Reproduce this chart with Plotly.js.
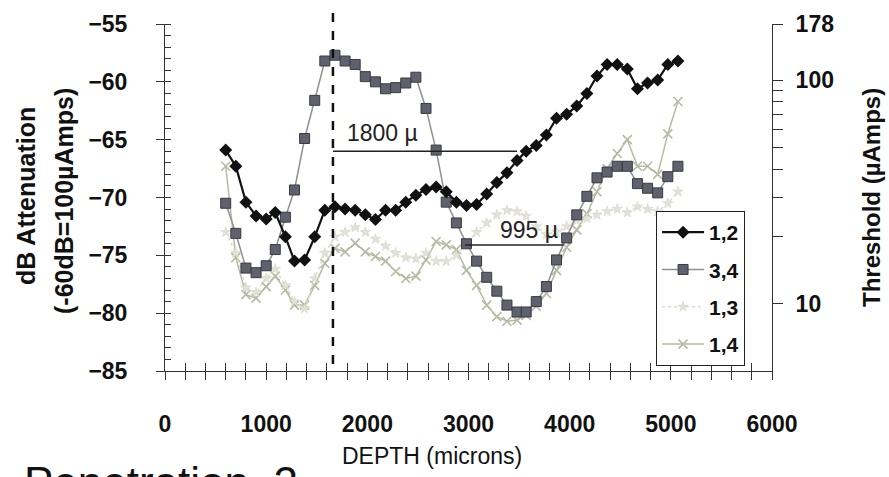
<!DOCTYPE html>
<html>
<head>
<meta charset="utf-8">
<script src="https://cdn.plot.ly/plotly-3.0.1.min.js"></script>
<style>html,body{margin:0;padding:0;background:#fff;}#chart{width:889px;height:477px;}</style>
</head>
<body>
<div id="chart"></div>
<script>
// Depth (microns) of each recording point
const depth = [600, 700, 800, 900, 1000, 1090, 1190, 1280, 1380, 1480,
  1580, 1680, 1780, 1880, 1980, 2080, 2180, 2280, 2380, 2480,
  2580, 2680, 2780, 2880, 2980, 3080, 3180, 3280, 3380, 3480,
  3570, 3670, 3770, 3870, 3970, 4070, 4170, 4270, 4370, 4470,
  4570, 4670, 4770, 4870, 4970, 5070];

// dB attenuation for each electrode pair
const pair12 = [-65.9, -67.3, -70.4, -71.6, -71.85, -71.3, -73.4, -75.5, -75.4, -73.4,
  -71.1, -70.8, -71.0, -71.1, -71.5, -71.9, -71.1, -71.1, -70.4, -69.8,
  -69.3, -69.1, -69.5, -70.4, -70.7, -70.6, -69.7, -68.7, -67.85, -66.8,
  -66.0, -65.5, -64.6, -63.15, -62.8, -62.1, -61.0, -59.5, -58.5, -58.5,
  -58.9, -60.6, -60.1, -59.85, -58.5, -58.2];
const pair34 = [-70.5, -73.1, -76.1, -76.5, -75.9, -74.5, -71.7, -69.35, -64.9, -61.6,
  -58.2, -57.7, -58.2, -58.5, -59.55, -60.0, -60.6, -60.5, -60.1, -59.6,
  -62.3, -65.9, -70.4, -72.2, -74.0, -75.5, -76.9, -78.1, -79.3, -79.9,
  -79.9, -79.0, -77.7, -75.4, -73.5, -71.5, -69.9, -68.3, -67.8, -67.3,
  -67.3, -68.8, -69.2, -69.6, -68.2, -67.3];
const pair13 = [-73.0, -74.8, -77.8, -78.2, -77.0, -76.2, -77.6, -79.0, -79.6, -77.0,
  -74.8, -73.4, -73.0, -72.6, -73.0, -73.6, -74.2, -74.8, -75.2, -75.3,
  -74.8, -75.5, -75.5, -75.0, -74.0, -73.0, -72.2, -71.5, -71.1, -71.2,
  -71.6, -72.5, -73.2, -73.0, -72.5, -72.0, -71.8, -71.5, -71.2, -71.0,
  -71.3, -70.8, -71.0, -71.2, -70.5, -69.5];
const pair14 = [-67.3, -75.2, -78.4, -78.7, -77.7, -76.8, -78.0, -79.3, -79.3, -77.6,
  -75.7, -74.4, -74.7, -73.95, -74.7, -75.1, -75.5, -76.4, -77.0, -76.8,
  -75.4, -73.8, -74.1, -74.5, -76.3, -77.6, -79.3, -80.3, -80.7, -80.6,
  -80.2, -79.4, -78.3, -76.3, -74.3, -72.8, -71.4, -69.5, -67.5, -66.2,
  -65.0, -67.3, -67.3, -68.0, -64.5, -61.7];

const seriesNames = ['1,2', '3,4', '1,3', '1,4'];

// Right axis (threshold, µAmps) ticks
const thresholdTicks = [10, 20, 30, 40, 50, 60, 70, 80, 90, 100, 178];
const thresholdLabels = ['10', '', '', '', '', '', '', '', '', '100', '178'];

// Marked spans
const peakDepth = 1660;
const span1800 = {x0: 1660, x1: 3480, y: -66.0, label: '1800 µ', lx: 2145, ly: -64.4};
const span995 = {x0: 2965, x1: 3940, y: -74.1, label: '995 µ', lx: 3600, ly: -72.85};

const FONT = 'Liberation Sans, Arial, sans-serif';

const traces = [
  {name: seriesNames[3], x: depth, y: pair14, mode: 'lines+markers', legendgroup: 'g4', legendrank: 4,
   line: {color: '#b5bba2', width: 1.5},
   marker: {symbol: 'x-thin-open', size: 9, line: {color: '#9a90cc', width: 1.6}}},
  {name: seriesNames[2], x: depth, y: pair13, mode: 'lines+markers', legendgroup: 'g3', legendrank: 3,
   line: {color: '#dcdccc', width: 1.5, dash: 'dot'},
   marker: {symbol: 'star', size: 8, color: '#e2e2d6', line: {color: '#d0d0c4', width: 0.5}}},
  {name: seriesNames[1], x: depth, y: pair34, mode: 'lines+markers', legendgroup: 'g2', legendrank: 2,
   line: {color: '#909090', width: 1.5},
   marker: {symbol: 'square', size: 10, color: '#5f616d', line: {color: '#3a3b42', width: 1}}},
  {name: seriesNames[0], x: depth, y: pair12, mode: 'lines+markers', legendgroup: 'g1', legendrank: 1,
   line: {color: '#111', width: 2.2},
   marker: {symbol: 'diamond', size: 10, color: '#111', line: {color: '#111', width: 0}}},
  // axis carriers (no visible marks)
  {x: [null], y: [null], xaxis: 'x2', yaxis: 'y', mode: 'none', showlegend: false, hoverinfo: 'skip'},
  {x: [null], y: [null], xaxis: 'x', yaxis: 'y2', mode: 'none', showlegend: false, hoverinfo: 'skip'}
];

const layout = {
  width: 889, height: 477,
  margin: {l: 165, r: 117, t: 24, b: 106},
  paper_bgcolor: '#fff', plot_bgcolor: 'rgba(0,0,0,0)',
  font: {family: FONT, color: '#111'},
  showlegend: true,
  legend: {
    x: 0.809, y: 0.461, xanchor: 'left', yanchor: 'top',
    bgcolor: '#fff', bordercolor: '#222', borderwidth: 1,
    font: {family: FONT, size: 21, color: '#111', weight: 'bold'},
    traceorder: 'grouped', tracegroupgap: 7, itemwidth: 42
  },
  xaxis: {
    range: [0, 6000], dtick: 1000, tick0: 0,
    showgrid: false, zeroline: false, showline: true, linecolor: '#333', linewidth: 1,
    ticks: 'outside', ticklen: 8, tickcolor: '#333', ticklabelstandoff: 24,
    minor: {dtick: 200, ticks: 'outside', ticklen: 8, tickcolor: '#333', showgrid: false},
    tickfont: {family: FONT, size: 23, weight: 'bold', color: '#111'}
  },
  xaxis2: {
    overlaying: 'x', anchor: 'y', range: [0, 6000], dtick: 200,
    showgrid: false, zeroline: false, showline: false, showticklabels: false,
    ticks: 'inside', ticklen: 8, tickcolor: '#333'
  },
  yaxis: {
    range: [-85, -55], dtick: 5, tick0: -85,
    showgrid: false, zeroline: false, showline: true, linecolor: '#333', linewidth: 1,
    ticks: 'outside', ticklen: 8, tickcolor: '#333', ticklabelstandoff: 24,
    minor: {dtick: 1, ticks: 'inside', ticklen: 6, tickcolor: '#333', showgrid: false},
    tickfont: {family: FONT, size: 23, weight: 'bold', color: '#111'}
  },
  yaxis2: {
    overlaying: 'y', side: 'right', anchor: 'x', type: 'log',
    range: [Math.log10(5.02), Math.log10(178)],
    tickmode: 'array', tickvals: thresholdTicks, ticktext: thresholdLabels,
    showgrid: false, zeroline: false, showline: true, linecolor: '#333', linewidth: 1,
    ticks: 'outside', ticklen: 10, tickcolor: '#333', ticklabelstandoff: 8,
    tickfont: {family: FONT, size: 23, weight: 'bold', color: '#111'}
  },
  shapes: [
    {type: 'line', xref: 'x', yref: 'paper', x0: peakDepth, x1: peakDepth, y0: 0.02, y1: 1.046,
     line: {color: '#111', width: 2.5, dash: 'dash'}},
    {type: 'line', xref: 'x', yref: 'y', x0: span1800.x0, x1: span1800.x1, y0: span1800.y, y1: span1800.y,
     line: {color: '#222', width: 1.5}},
    {type: 'line', xref: 'x', yref: 'y', x0: span995.x0, x1: span995.x1, y0: span995.y, y1: span995.y,
     line: {color: '#222', width: 1.5}}
  ],
  annotations: [
    {text: span1800.label, x: span1800.lx, y: span1800.ly, xref: 'x', yref: 'y', showarrow: false,
     font: {family: FONT, size: 23, color: '#222'}},
    {text: span995.label, x: span995.lx, y: span995.ly, xref: 'x', yref: 'y', showarrow: false,
     font: {family: FONT, size: 23, color: '#222'}},
    {text: 'dB Attenuation', xref: 'paper', yref: 'paper', x: (26 - 165) / 607, y: (371 - 196) / 347,
     textangle: -90, showarrow: false, xanchor: 'center', yanchor: 'middle',
     font: {family: FONT, size: 25, weight: 'bold', color: '#111'}},
    {text: '(-60dB=100µAmps)', xref: 'paper', yref: 'paper', x: (64 - 165) / 607, y: (371 - 201) / 347,
     textangle: -90, showarrow: false, xanchor: 'center', yanchor: 'middle',
     font: {family: FONT, size: 25, weight: 'bold', color: '#111'}},
    {text: 'Threshold (µAmps)', xref: 'paper', yref: 'paper', x: (871 - 165) / 607, y: (371 - 198) / 347,
     textangle: -90, showarrow: false, xanchor: 'center', yanchor: 'middle',
     font: {family: FONT, size: 24, weight: 'bold', color: '#111'}},
    {text: 'DEPTH (microns)', xref: 'paper', yref: 'paper', x: (432 - 165) / 607, y: (371 - 456) / 347,
     showarrow: false, xanchor: 'center', yanchor: 'middle',
     font: {family: FONT, size: 23, color: '#111'}},
    {text: 'Penetration&nbsp;&nbsp;2', xref: 'paper', yref: 'paper', x: (22 - 165) / 607, y: (371 - 456) / 347,
     showarrow: false, xanchor: 'left', yanchor: 'top',
     font: {family: FONT, size: 44, color: '#111'}}
  ]
};

Plotly.newPlot('chart', traces, layout, {displayModeBar: false, staticPlot: true});
</script>
</body>
</html>
